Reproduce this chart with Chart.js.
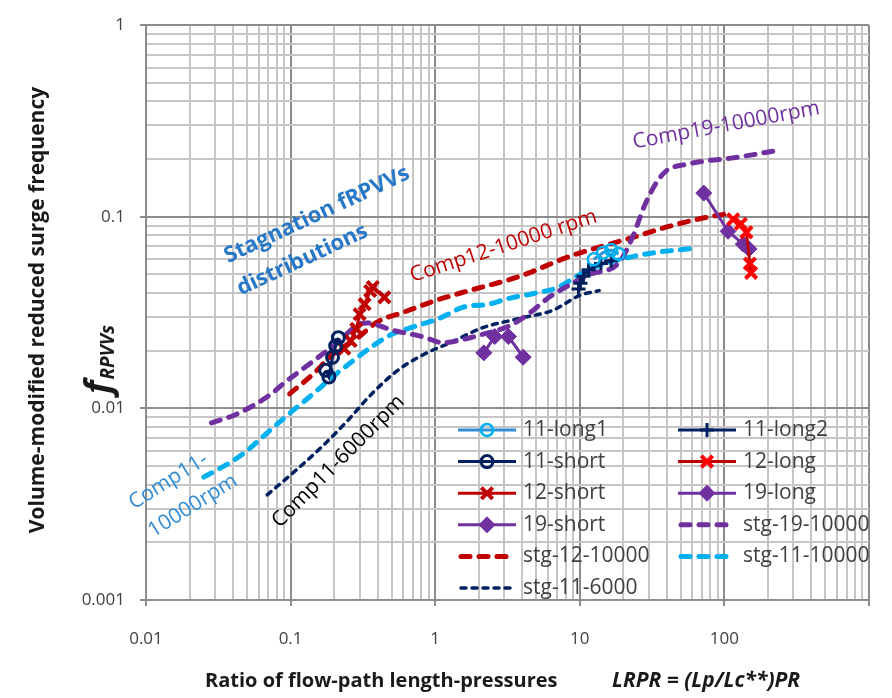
<!DOCTYPE html>
<html lang="en">
<head>
<meta charset="UTF-8">
<title>Volume-modified reduced surge frequency vs LRPR</title>
<script src="https://cdn.jsdelivr.net/npm/chart.js@4.4.1/dist/chart.umd.min.js"></script>
<style>
    body { margin: 0; background: #fff; }
    #box { width: 892px; height: 698px; }
</style>
</head>
<body>
<div id="box"><canvas id="surgeChart" width="892" height="698"></canvas></div>

<script>
    // tick labels shown on the axes
    var xTickLabels = ['0.01', '0.1', '1', '10', '100'];
    var yTickLabels = ['0.001', '0.01', '0.1', '1'];

    var c11Long1X = [12.5, 14.5, 16.5, 18.5];
    var c11Long1Y = [0.060, 0.065, 0.067, 0.064];
    var c11Long2X = [9.8, 10.1, 10.6, 11.5, 14, 16.5];
    var c11Long2Y = [0.042, 0.045, 0.049, 0.053, 0.057, 0.059];
    var c11ShortX = [0.175, 0.184, 0.195, 0.205, 0.214];
    var c11ShortY = [0.0158, 0.0146, 0.0185, 0.0212, 0.0234];
    var c12LongX = [115, 130, 142, 150, 153];
    var c12LongY = [0.097, 0.092, 0.083, 0.057, 0.051];
    var c12ShortX = [0.235, 0.26, 0.285, 0.30, 0.325, 0.355, 0.37, 0.445];
    var c12ShortY = [0.0205, 0.0225, 0.026, 0.031, 0.035, 0.041, 0.043, 0.038];
    var c19LongX = [72, 106, 135, 148];
    var c19LongY = [0.133, 0.084, 0.072, 0.068];
    var c19ShortX = [2.17, 2.58, 3.21, 4.06];
    var c19ShortY = [0.0195, 0.0237, 0.0237, 0.0185];

    // stagnation distributions
    var stg19X = [0.0284, 0.0432, 0.0689, 0.094, 0.143, 0.214, 0.292, 0.342, 0.497, 0.83, 1.13, 1.55, 2.11, 3.37, 4.59, 5.98, 7.67, 11.7, 18.6, 22.8, 28.4, 34.7, 40.6, 52.8, 75.5, 115, 224];
    var stg19Y = [0.0084, 0.0094, 0.0115, 0.0139, 0.0176, 0.0223, 0.0273, 0.0279, 0.0257, 0.0236, 0.0220, 0.0229, 0.0243, 0.0273, 0.0318, 0.0375, 0.0422, 0.050, 0.0575, 0.0762, 0.117, 0.155, 0.176, 0.187, 0.196, 0.203, 0.221];
    var stg12X = [0.0984, 0.143, 0.195, 0.292, 0.399, 0.608, 1.02, 1.72, 3.93, 8.56, 14.3, 24.3, 40.6, 67.8, 103];
    var stg12Y = [0.0119, 0.0151, 0.0191, 0.0234, 0.0283, 0.0318, 0.0367, 0.0412, 0.0492, 0.0623, 0.0702, 0.0789, 0.0888, 0.0977, 0.1036];
    var stg11X = [0.0251, 0.0353, 0.0481, 0.0689, 0.0984, 0.143, 0.195, 0.267, 0.364, 0.497, 0.71, 1.08, 1.55, 2.35, 3.21, 4.81, 7.0, 10, 13, 19.5, 31.1, 61.8];
    var stg11Y = [0.00438, 0.00504, 0.00588, 0.00745, 0.00942, 0.0119, 0.0146, 0.0176, 0.021, 0.0243, 0.0267, 0.0296, 0.0337, 0.035, 0.0375, 0.0398, 0.0427, 0.050, 0.055, 0.0602, 0.0646, 0.0685];
    var stg11sX = [0.0689, 0.105, 0.157, 0.239, 0.364, 0.545, 0.83, 1.32, 2.11, 3.93, 6.57, 10, 13.6];
    var stg11sY = [0.00354, 0.00464, 0.0061, 0.00838, 0.0119, 0.0157, 0.0191, 0.0223, 0.0263, 0.0296, 0.0326, 0.0389, 0.0412];

    var fontName = '"Open Sans", "DejaVu Sans", sans-serif';
    var majorGrid = '#8c8c8c';
    var minorGrid = '#c6c6c6';

    // text boxes drawn on the plot (positions in data units)
    var notes = [
        { text: 'Stagnation fRPVVs', x: 0.152, y: 0.1023, angle: -25, color: '#2878C8', bold: true, size: 22 },
        { text: 'distributions', x: 0.1206, y: 0.0595, angle: -25, color: '#2878C8', bold: true, size: 22 },
        { text: 'Comp12-10000 rpm', x: 2.97, y: 0.0702, angle: -18, color: '#C00000', size: 21 },
        { text: 'Comp19-10000rpm', x: 103, y: 0.30, angle: -10.5, color: '#7030A0', size: 21 },
        { text: 'Comp11-', x: 0.0143, y: 0.00417, angle: -32, color: '#2E8BD6', size: 21 },
        { text: '10000rpm', x: 0.0211, y: 0.0031, angle: -32, color: '#2E8BD6', size: 21 },
        { text: 'Comp11-6000rpm', x: 0.214, y: 0.00529, angle: -45, color: '#000000', size: 21 }
    ];

    function isMajor(v) {
        var l = Math.log10(v);
        return Math.abs(l - Math.round(l)) < 1e-6;
    }

    // 1..9 x 10^e for every decade
    function logTicks(minExp, maxExp) {
        var t = [];
        for (var e = minExp; e < maxExp; e++) {
            for (var m = 1; m <= 9; m++) {
                t.push({ value: Number((m * Math.pow(10, e)).toPrecision(6)) });
            }
        }
        t.push({ value: Number(Math.pow(10, maxExp).toPrecision(6)) });
        return t;
    }

    function labelFor(value, labels) {
        for (var i = 0; i < labels.length; i++) {
            if (Math.abs(parseFloat(labels[i]) - value) / value < 1e-6) return labels[i];
        }
        return '';
    }

    function serie(label, xs, ys, style) {
        return Object.assign({
            label: label,
            data: xs.map(function (x, i) { return { x: x, y: ys[i] }; }),
            showLine: true,
            fill: false
        }, style);
    }

    function marked(color, markerColor, shape, radius, bw, bg) {
        return {
            borderColor: color, borderWidth: 3,
            pointStyle: shape, pointRadius: radius, pointHoverRadius: radius,
            pointBorderColor: markerColor, pointBorderWidth: bw,
            pointBackgroundColor: bg
        };
    }

    function dashed(color, width, dash) {
        return {
            borderColor: color, borderWidth: width, borderDash: dash,
            borderCapStyle: 'round', pointRadius: 0, pointHoverRadius: 0,
            cubicInterpolationMode: 'monotone'
        };
    }

    var datasets = [
        serie('11-long1', c11Long1X, c11Long1Y, marked('#2E8FD8', '#00B0F0', 'circle', 6, 2.5, 'rgba(255,255,255,0)')),
        serie('11-long2', c11Long2X, c11Long2Y, marked('#002060', '#002060', 'cross', 7, 3, '#002060')),
        serie('11-short', c11ShortX, c11ShortY, marked('#002060', '#002060', 'circle', 6, 3, 'rgba(255,255,255,0)')),
        serie('12-long', c12LongX, c12LongY, marked('#C00000', '#FF0000', 'crossRot', 8, 4, '#FF0000')),
        serie('12-short', c12ShortX, c12ShortY, marked('#C00000', '#C00000', 'crossRot', 8, 4, '#C00000')),
        serie('19-long', c19LongX, c19LongY, marked('#7030A0', '#7030A0', 'rectRot', 8, 1, '#7030A0')),
        serie('19-short', c19ShortX, c19ShortY, marked('#7030A0', '#7030A0', 'rectRot', 8, 1, '#7030A0')),
        serie('stg-19-10000', stg19X, stg19Y, dashed('#7030A0', 5, [9, 9])),
        serie('stg-12-10000', stg12X, stg12Y, dashed('#C00000', 5, [9, 9])),
        serie('stg-11-10000', stg11X, stg11Y, dashed('#00B0F0', 5, [9, 9])),
        serie('stg-11-6000', stg11sX, stg11sY, dashed('#002060', 3.5, [5, 6]))
    ];

    // titles, text boxes and the in-plot legend
    var decorations = {
        id: 'decorations',
        afterDraw: function (chart) {
            var ctx = chart.ctx;
            var sx = chart.scales.x, sy = chart.scales.y;

            // text boxes
            notes.forEach(function (n) {
                ctx.save();
                ctx.translate(sx.getPixelForValue(n.x), sy.getPixelForValue(n.y));
                ctx.rotate(n.angle * Math.PI / 180);
                ctx.font = (n.bold ? 'bold ' : '') + n.size + 'px ' + fontName;
                ctx.fillStyle = n.color;
                ctx.textAlign = 'center';
                ctx.textBaseline = 'middle';
                ctx.fillText(n.text, 0, 0);
                ctx.restore();
            });

            // legend, two columns
            var colX = [458, 678], top = 430, rowH = 31.6, len = 58;
            chart.data.datasets.forEach(function (ds, i) {
                var x0 = colX[i % 2], y = top + Math.floor(i / 2) * rowH;
                ctx.save();
                ctx.strokeStyle = ds.borderColor;
                ctx.lineWidth = ds.borderWidth;
                ctx.lineCap = ds.borderCapStyle || 'butt';
                ctx.setLineDash(ds.borderDash || []);
                ctx.beginPath();
                ctx.moveTo(x0 + (ds.borderDash ? 3 : 0), y);
                ctx.lineTo(x0 + len - (ds.borderDash ? 3 : 0), y);
                ctx.stroke();
                if (ds.pointRadius > 0) {
                    ctx.setLineDash([]);
                    ctx.lineCap = 'butt';
                    ctx.fillStyle = ds.pointBackgroundColor;
                    ctx.strokeStyle = ds.pointBorderColor;
                    ctx.lineWidth = ds.pointBorderWidth;
                    Chart.helpers.drawPoint(ctx, {
                        pointStyle: ds.pointStyle, radius: ds.pointRadius,
                        borderWidth: ds.pointBorderWidth, rotation: 0
                    }, x0 + len / 2, y);
                }
                ctx.fillStyle = '#404040';
                ctx.font = '21px ' + fontName;
                ctx.textAlign = 'left';
                ctx.textBaseline = 'middle';
                ctx.fillText(ds.label, x0 + len + 7, y);
                ctx.restore();
            });

            // y axis title
            ctx.save();
            ctx.fillStyle = '#1a1a1a';
            ctx.translate(38, 310);
            ctx.rotate(-Math.PI / 2);
            ctx.font = 'bold 21px ' + fontName;
            ctx.textAlign = 'center';
            ctx.textBaseline = 'middle';
            ctx.fillText('Volume-modified reduced surge frequency', 0, 0);
            ctx.restore();

            ctx.save();
            ctx.fillStyle = '#1a1a1a';
            ctx.translate(110, 394);
            ctx.rotate(-Math.PI / 2);
            ctx.textAlign = 'left';
            ctx.textBaseline = 'alphabetic';
            ctx.font = 'italic bold 36px ' + fontName;
            ctx.fillText('f', 0, 0);
            var fw = ctx.measureText('f').width;
            ctx.font = 'italic bold 19px ' + fontName;
            ctx.fillText('RPVVs', fw + 1, 4);
            ctx.restore();

            // x axis title
            ctx.save();
            ctx.fillStyle = '#1a1a1a';
            ctx.textAlign = 'left';
            ctx.textBaseline = 'middle';
            ctx.font = 'bold 20px ' + fontName;
            ctx.fillText('Ratio of flow-path length-pressures', 205, 681);
            ctx.font = 'italic bold 21px ' + fontName;
            ctx.fillText('LRPR = (Lp/Lc**)PR', 612, 681);
            ctx.restore();
        }
    };

    function gridColor(c) {
        return c.tick && isMajor(c.tick.value) ? majorGrid : minorGrid;
    }
    function tickMarkColor(c) {
        return c.tick && isMajor(c.tick.value) ? majorGrid : 'rgba(0,0,0,0)';
    }

    var ctx = document.getElementById('surgeChart').getContext('2d');
    var chart = new Chart(ctx, {
        type: 'scatter',
        data: { datasets: datasets },
        options: {
            responsive: false,
            animation: false,
            devicePixelRatio: 1,
            layout: { padding: { left: 0, right: 6, top: 15, bottom: 0 } },
            plugins: { legend: { display: false }, tooltip: { enabled: false } },
            scales: {
                x: {
                    type: 'logarithmic',
                    min: 0.01,
                    max: 1000,
                    afterBuildTicks: function (scale) { scale.ticks = logTicks(-2, 3); },
                    afterFit: function (scale) { scale.height = 98; },
                    border: { color: majorGrid, width: 2 },
                    grid: { color: gridColor, tickColor: tickMarkColor, lineWidth: 2, tickLength: 6 },
                    ticks: {
                        autoSkip: false, maxRotation: 0, padding: 23,
                        color: '#404040', font: { family: fontName, size: 17 },
                        callback: function (value) { return labelFor(value, xTickLabels); }
                    }
                },
                y: {
                    type: 'logarithmic',
                    min: 0.001,
                    max: 1,
                    afterBuildTicks: function (scale) { scale.ticks = logTicks(-3, 0); },
                    afterFit: function (scale) { scale.width = 146; },
                    border: { color: majorGrid, width: 2 },
                    grid: { color: gridColor, tickColor: tickMarkColor, lineWidth: 2, tickLength: 6 },
                    ticks: {
                        autoSkip: false, padding: 15,
                        color: '#404040', font: { family: fontName, size: 17 },
                        callback: function (value) { return labelFor(value, yTickLabels); }
                    }
                }
            }
        },
        plugins: [decorations]
    });
</script>
</body>
</html>
